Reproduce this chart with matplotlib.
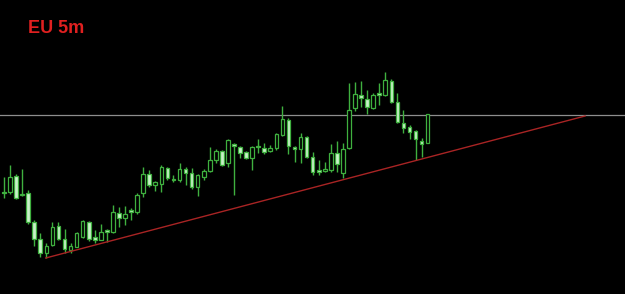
import matplotlib
matplotlib.use('Agg')
import matplotlib.pyplot as plt
from matplotlib.patches import Rectangle

# candle levels (chart units, 0 = bottom edge)
opens = [102.3, 102.3, 118, 99, 100.7, 72.3, 55, 41.3, 49.5, 68, 55.3, 43.7, 47.3, 57.3, 72,
         56.7, 54.5, 64, 62.3, 81.3, 75.7, 84, 82, 100.7, 119.7, 109, 110, 126.3, 115.5, 114,
         125.5, 120.7, 106.7, 116.7, 123.3, 134, 143.3, 131.3, 150, 146.7, 141.7, 135.7, 147.7, 146.3, 143,
         145.7, 159, 174.5, 147.3, 145, 157.3, 137.3, 123.7, 123, 124, 140.7, 121.3, 145.7, 185.7, 199,
         194.7, 185.7, 200.7, 199, 213.5, 192.3, 170.7, 167.3, 163.3, 153, 150.7]
highs = [117.3, 129, 120, 124.7, 104, 74, 61.5, 50.7, 72.3, 72.3, 64.7, 50.7, 62.3, 74, 73.5,
         64, 70, 65.5, 89, 86.7, 88.5, 86.5, 100.7, 127.3, 124.5, 113, 129, 127.5, 119, 130.7,
         127, 125.7, 120, 124.7, 147.3, 144.7, 144, 154.7, 151.3, 148, 143.3, 148.3, 155.5, 150.7, 149,
         160.7, 188, 176.3, 147.7, 160.7, 158.3, 141.7, 134, 132.3, 149.7, 153, 150.7, 211.3, 212.5, 213.3,
         204.5, 200.7, 210.7, 222, 214.7, 201, 184, 169.5, 164, 156.5, 179.7]
lows = [95.7, 100.5, 95, 98, 70, 48, 36.7, 35.7, 47.7, 54, 41.3, 41.3, 46.7, 56, 53.5,
        51.5, 53.7, 52.3, 60.7, 67, 69, 74, 80, 97.3, 107, 103, 102.3, 114, 112, 112.3,
        109, 104.7, 98, 114, 122.3, 130.7, 128.5, 127.3, 99, 135.7, 134.7, 124, 141, 139.7, 142,
        144, 158.3, 139.7, 132, 130.7, 136.3, 119, 119, 121.7, 122.3, 122.3, 115.7, 144.7, 183, 187.3,
        180, 185.5, 189, 198, 191, 171, 161, 155.3, 134.3, 136.8, 150.7]
closes = [100.7, 117.3, 96, 99, 72.3, 55, 41.3, 48.3, 67.3, 55.3, 45, 48, 60.7, 73, 55,
          54, 62.3, 62, 82.3, 76.5, 80, 82.5, 99, 119.7, 108.7, 112, 126.7, 116.3, 114.5, 124.7,
          120.7, 106.7, 119, 123.3, 134, 143.3, 129, 154, 148, 141.3, 135.7, 147.3, 146.7, 142.3, 145.7,
          159.7, 175, 148.3, 144.7, 157.3, 137.3, 122.3, 121.7, 125, 140.7, 129.7, 144.7, 184, 200, 195.7,
          187, 199, 199, 214, 192, 172.5, 165.7, 162.5, 154.8, 149.8, 179.7]

hline_level = 179.3
trend_x = [6.9, 96.0]
trend_y = [36, 178]
title = 'EU 5m'

edge = '#3fb03f'
bear_fill = '#c8f2c8'

fig = plt.figure(figsize=(6.25, 2.94), dpi=100, facecolor='black')
ax = fig.add_axes([0, 0, 1, 1])
ax.set_facecolor('black')
ax.set_xlim(-0.66, 102.6)
ax.set_ylim(0, 294)
ax.axis('off')

ax.axhline(hline_level, color='#8e8e8e', lw=0.9, zorder=1)
ax.plot(trend_x, trend_y, color='#a82424', lw=1.0, zorder=4)

w = 0.6
for i in range(len(opens)):
    o, h, l, c = opens[i], highs[i], lows[i], closes[i]
    ax.vlines(i, l, h, color=edge, lw=1.0, zorder=2)
    bull = c >= o
    fc = 'black' if bull else bear_fill
    bottom = min(o, c)
    height = max(abs(c - o), 0.8)
    ax.add_patch(Rectangle((i - w / 2, bottom), w, height, facecolor=fc,
                           edgecolor=edge, lw=0.9, zorder=3))

fig.text(28 / 625, 1 - 33.3 / 294, title, color='#e02020', fontsize=13,
         fontweight='bold', family='Liberation Sans', va='baseline', ha='left')

fig.savefig('out.png', dpi=100, facecolor='black')
